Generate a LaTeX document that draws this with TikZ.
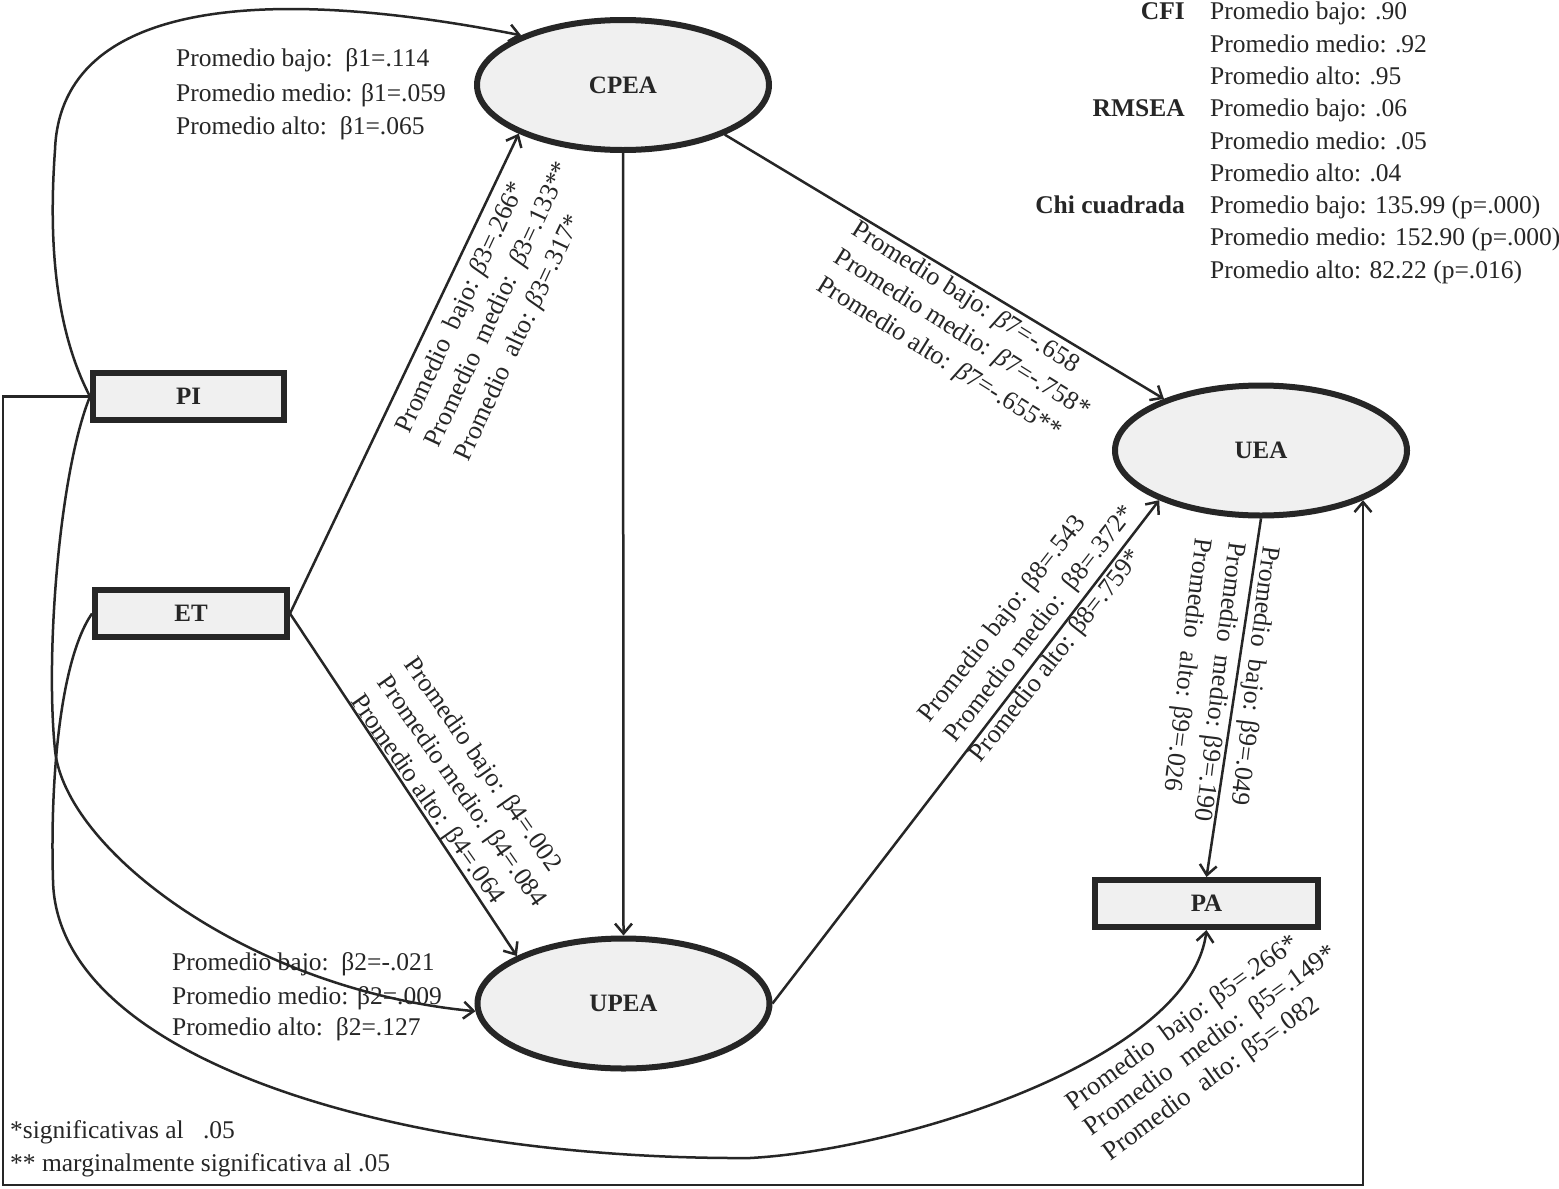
\documentclass[tikz,border=0pt]{standalone}
\usepackage{fontspec}
\setmainfont{Liberation Serif}
\usetikzlibrary{arrows.meta,shapes.geometric}
\definecolor{ink}{HTML}{262626}
\definecolor{boxfill}{HTML}{F0F0F0}
\begin{document}
\begin{tikzpicture}[x=1pt,y=-1pt,
  latent/.style={ellipse, draw=ink, line width=6pt, fill=boxfill, minimum width=292pt, minimum height=130pt, inner sep=0pt, text=ink, font=\fontsize{25}{30}\selectfont\bfseries},
  observed/.style={rectangle, draw=ink, line width=6pt, fill=boxfill, minimum height=47pt, inner sep=0pt, text=ink, font=\fontsize{25}{30}\selectfont\bfseries},
  conn/.style={draw=ink, line width=2.5pt, -{Straight Barb[length=10pt,width=17pt]}},
  txt/.style={inner sep=0pt, text=ink, font=\fontsize{25.5}{32.5}\selectfont},
  rot/.style={txt, align=left, anchor=west, font=\fontsize{26}{32.5}\selectfont},
  fitlab/.style={txt, anchor=base east, font=\fontsize{25.5}{32.5}\selectfont\bfseries},
  fitval/.style={txt, anchor=base west},
  rowtxt/.style={txt, anchor=base west}
]
\fill[white] (0,0) rectangle (1559,1189);
\useasboundingbox (0,0) rectangle (1559,1189);

% nodes
\node[latent] (CPEA) at (623,85) {CPEA};
\node[latent] (UEA) at (1261,450.5) {UEA};
\node[latent] (UPEA) at (623.5,1003.5) {UPEA};
\node[observed, minimum width=191pt] (PI) at (188.5,396.5) {PI};
\node[observed, minimum width=192pt] (ET) at (191,613.5) {ET};
\node[observed, minimum width=223pt] (PA) at (1206.5,903.5) {PA};

% helper corners of the frame path
\coordinate (f1) at (3,396.5);
\coordinate (f2) at (3,1185);
\coordinate (f3) at (1363,1185);

% connectors
\draw[conn] (PI.west) .. controls (50,320) and (50,220) .. (55,150)
            .. controls (60,10) and (240,-20) .. (CPEA.154);
\draw[conn] (PI.west) -- (f1) -- (f2) -- (f3) -- (f3 |- UEA.-26);
\draw[conn] (PI.west) .. controls (60,470) and (45,650) .. (55,750)
            .. controls (65,850) and (250,990) .. (UPEA.183);
\draw[conn] (ET.west) .. controls (60,660) and (50,780) .. (53,880)
            .. controls (56,1060) and (400,1160) .. (750,1158)
            .. controls (900,1150) and (1190,1060) .. (PA.south);
\draw[conn] (ET.east) -- (CPEA.205);
\draw[conn] (ET.east) -- (UPEA.156);
\draw[conn] (CPEA.south) -- (UPEA.north);
\draw[conn] (CPEA.-26) -- (UEA.152);
\draw[conn] (UPEA.east) -- (UEA.206);
\draw[conn] (UEA.south) -- (PA.north);

% beta1 labels
\node[rowtxt] (b1a) at (176,66) {Promedio bajo:\ \ β1=.114};
\node[rowtxt] (b1b) at (176,101) {Promedio medio: β1=.059};
\node[rowtxt] (b1c) at (176,134) {Promedio alto:\ \ β1=.065};

% beta2 labels
\node[rowtxt] (b2a) at (172,970) {Promedio bajo:\ \ β2=-.021};
\node[rowtxt] (b2b) at (172,1004) {Promedio medio: β2=.009};
\node[rowtxt] (b2c) at (172,1035) {Promedio alto:\ \ β2=.127};

% rotated labels
\node[rot, rotate=65] (b3) at (433,446) {Promedio\ \ bajo: \textit{β}3=.266*\\Promedio\ \ medio:\ \ \textit{β}3=.133**\\Promedio\ \ alto: \textit{β}3=.317*};
\node[rot, rotate=-55] (b4) at (382,679) {Promedio bajo: β4=.002\\Promedio medio: β4=.084\\Promedio alto: β4=.064};
\node[rot, rotate=-32] (b7) at (836,256) {Promedio bajo: \textit{β}7=-.658\\Promedio medio: \textit{β}7=-.758*\\Promedio alto: \textit{β}7=-.655**};
\node[rot, rotate=52] (b8) at (950,740) {Promedio bajo: β8=.543\\Promedio medio:\ \ β8=.372*\\Promedio alto: β8=.759*};
\node[rot, rotate=-97, font=\fontsize{26}{34}\selectfont] (b9) at (1236,542) {Promedio\ \ bajo: β9=.049\\Promedio\ \ medio: β9=.190\\Promedio\ \ alto: β9=.026};
\node[rot, rotate=36, font=\fontsize{26.5}{31}\selectfont] (b5) at (1088,1131) {Promedio\ \ bajo: β5=.266*\\Promedio\ \ medio:\ \ β5=.149*\\Promedio\ \ alto: β5=.082};

% fit statistics
\node[fitlab] (cfi) at (1185,19) {CFI};
\node[fitlab] (rmsea) at (1185,116) {RMSEA};
\node[fitlab] (chi) at (1185,213) {Chi cuadrada};
\node[fitval] (v1) at (1210,19) {Promedio bajo: .90};
\node[fitval] (v2) at (1210,52) {Promedio medio: .92};
\node[fitval] (v3) at (1210,84) {Promedio alto: .95};
\node[fitval] (v4) at (1210,116) {Promedio bajo: .06};
\node[fitval] (v5) at (1210,149) {Promedio medio: .05};
\node[fitval] (v6) at (1210,181) {Promedio alto: .04};
\node[fitval] (v7) at (1210,213) {Promedio bajo: 135.99 (p=.000)};
\node[fitval] (v8) at (1210,245) {Promedio medio: 152.90 (p=.000)};
\node[fitval] (v9) at (1210,278) {Promedio alto: 82.22 (p=.016)};

% footnotes
\node[rowtxt] (n1) at (10,1138) {*significativas al\hspace{13pt} .05};
\node[rowtxt] (n2) at (10,1171) {** marginalmente significativa al .05};
\end{tikzpicture}
\end{document}
